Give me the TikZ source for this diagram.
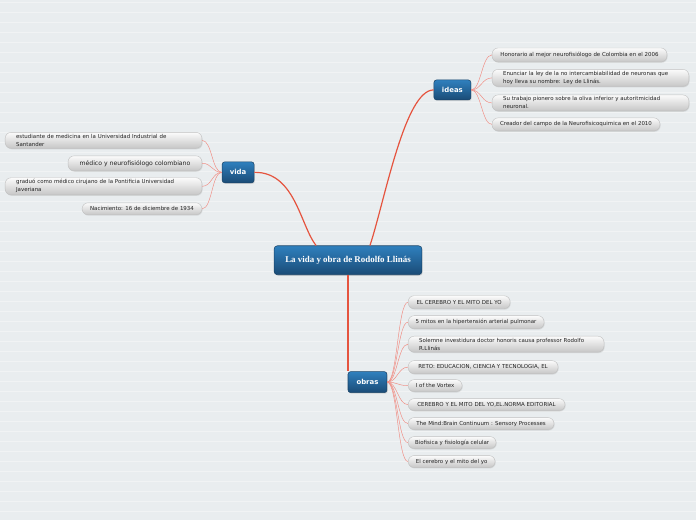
\documentclass[tikz,border=0pt]{standalone}
\usepackage{fontspec}
\newfontfamily\dv{DejaVu Sans}
\newfontfamily\ser{Liberation Serif}
\usetikzlibrary{shadows}
\definecolor{bgc}{HTML}{E9EDEF}
\definecolor{rulec}{HTML}{F1F3F4}
\definecolor{mainred}{HTML}{E5543F}
\definecolor{thinred}{HTML}{F08C82}
\definecolor{btop}{HTML}{2F80BE}
\definecolor{bbot}{HTML}{1A4B76}
\definecolor{bdraw}{HTML}{1A4468}
\definecolor{ltop}{HTML}{FBFBFB}
\definecolor{lbot}{HTML}{C6C6C6}
\definecolor{ldraw}{HTML}{C0C0C0}
\definecolor{ltext}{HTML}{222222}
\tikzset{
  x=0.75pt, y=-0.75pt,
  central/.style={draw=bdraw, line width=0.4pt, rounded corners=2.5pt,
    top color=btop, bottom color=bbot, text=white,
    font=\ser\bfseries\fontsize{6.7}{7.5}\selectfont,
    minimum width=111pt, minimum height=21.75pt, inner sep=0pt,
    drop shadow={shadow xshift=0.6pt, shadow yshift=-0.8pt, opacity=0.25}},
  topic/.style={draw=bdraw, line width=0.4pt, rounded corners=2pt,
    top color=btop, bottom color=bbot, text=white,
    font=\dv\bfseries\fontsize{5.2}{6}\selectfont, inner sep=0pt,
    drop shadow={shadow xshift=0.6pt, shadow yshift=-0.8pt, opacity=0.25}},
  leaf/.style={draw=ldraw, line width=0.3pt, rounded corners=4.5pt,
    top color=ltop, bottom color=lbot, text=ltext,
    font=\dv\fontsize{4.1}{6}\selectfont, inner ysep=0pt, inner xsep=0pt,
    drop shadow={shadow xshift=0.5pt, shadow yshift=-0.7pt, opacity=0.2}},
  leaftwo/.style={leaf, align=left, inner xsep=8.25pt, inner ysep=1.4pt},
  mainline/.style={draw=mainred, line width=0.9pt},
  thinline/.style={draw=thinred, line width=0.35pt},
}
\begin{document}
\begin{tikzpicture}
\fill[bgc] (0,0) rectangle (696,520);
\foreach \k in {0,...,51} \draw[rulec, line width=0.5pt] (0,2+10*\k) -- (696,2+10*\k);
\useasboundingbox (0,0) rectangle (696,520);

% main nodes
\node[central] (c) at (348,260.5) {La vida y obra de Rodolfo Llinás};
\node[topic, minimum width=24pt, minimum height=15.75pt] (vida) at (238,172.5) {vida};
\node[topic, minimum width=27.75pt, minimum height=15pt] (ideas) at (452.5,90) {ideas};
\node[topic, minimum width=29.25pt, minimum height=15.75pt] (obras) at (367.5,382.5) {obras};

% vida leaves
\node[leaftwo, text width=131.25pt, anchor=east] (v1) at (202,140.5) {estudiante de medicina en la Universidad Industrial de\\Santander};
\node[leaf, font=\dv\fontsize{4.6}{6}\selectfont, minimum width=100.5pt, minimum height=11.25pt, anchor=east] (v2) at (202,163.5) {médico y neurofisiólogo colombiano};
\node[leaftwo, text width=131.25pt, anchor=east] (v3) at (202,186.5) {graduó como médico cirujano de la Pontificia Universidad\\Javeriana};
\node[leaf, minimum width=90pt, minimum height=9pt, anchor=east] (v4) at (202,209) {Nacimiento: 16 de diciembre de 1934};

% ideas leaves
\node[leaf, minimum width=131.25pt, minimum height=10.5pt, anchor=west] (i1) at (492,55) {Honorario al mejor neurofisiólogo de Colombia en el 2006};
\node[leaftwo, text width=131.25pt, anchor=west] (i2) at (492,78) {Enunciar la ley de la no intercambiabilidad de neuronas que\\hoy lleva su nombre: Ley de Llinás.};
\node[leaftwo, text width=131.25pt, anchor=west] (i3) at (492,103) {Su trabajo pionero sobre la oliva inferior y autoritmicidad\\neuronal.};
\node[leaf, minimum width=126pt, minimum height=9.75pt, anchor=west] (i4) at (492,124.5) {Creador del campo de la Neurofisicoquimica en el 2010};

% obras leaves
\node[leaf, minimum width=76.5pt, minimum height=9.75pt, anchor=west] (o1) at (408,302.5) {EL CEREBRO Y EL MITO DEL YO};
\node[leaf, minimum width=102pt, minimum height=9.75pt, anchor=west] (o2) at (408,322.5) {5 mitos en la hipertensión arterial pulmonar};
\node[leaftwo, text width=130.5pt, anchor=west] (o3) at (408,344.5) {Solemne investidura doctor honoris causa professor Rodolfo\\R.Llinás};
\node[leaf, minimum width=112.5pt, minimum height=9.75pt, anchor=west] (o4) at (408,367.5) {RETO: EDUCACION, CIENCIA Y TECNOLOGIA, EL};
\node[leaf, minimum width=40.5pt, minimum height=9pt, anchor=west] (o5) at (408,386) {I of the Vortex};
\node[leaf, minimum width=117.75pt, minimum height=9pt, anchor=west] (o6) at (408,405) {CEREBRO Y EL MITO DEL YO,EL.NORMA EDITORIAL};
\node[leaf, minimum width=109.5pt, minimum height=9pt, anchor=west] (o7) at (408,424) {The Mind:Brain Continuum : Sensory Processes};
\node[leaf, minimum width=66pt, minimum height=9pt, anchor=west] (o8) at (408,443) {Biofisica y fisiología celular};
\node[leaf, minimum width=65.25pt, minimum height=9pt, anchor=west] (o9) at (408,462) {El cerebro y el mito del yo};

% main connectors
\draw[mainline] (vida.east) .. controls (295,172) and (300,225) .. ([xshift=-24pt]c.north);
\draw[mainline] (ideas.west) .. controls (405,90) and (385,200) .. ([xshift=16.5pt]c.north);
\draw[mainline] (c.south) -- (c.south |- obras.north);

% leaf connectors
\foreach \n in {v1,v2,v3,v4}
  \draw[thinline] (vida.west) .. controls +(-10,0) and ([xshift=7.5pt]\n.east) .. (\n.east);
\foreach \n in {i1,i2,i3,i4}
  \draw[thinline] (ideas.east) .. controls +(10,0) and ([xshift=-7.5pt]\n.west) .. (\n.west);
\foreach \n in {o1,o2,o3,o4,o5,o6,o7,o8,o9}
  \draw[thinline] (obras.east) .. controls +(10,0) and ([xshift=-7.5pt]\n.west) .. (\n.west);
\end{tikzpicture}
\end{document}
